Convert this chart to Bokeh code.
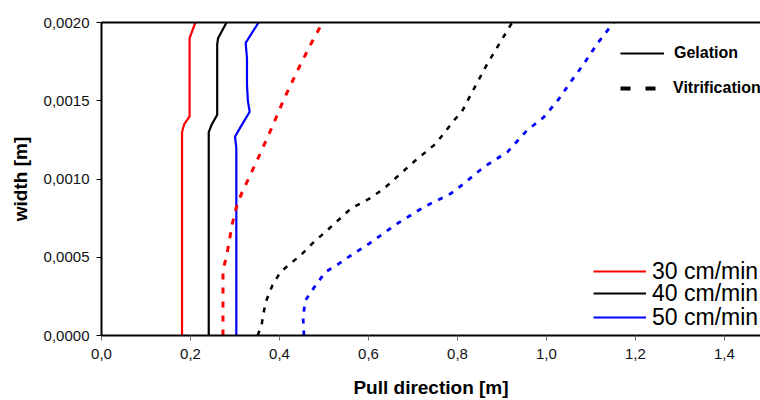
from bokeh.plotting import figure
from bokeh.models import (Range1d, FixedTicker, CustomJSTickFormatter, LinearAxis,
                          Legend, LegendItem)
from bokeh.embed import file_html
from bokeh.resources import INLINE

# ---- data ----
red_gel_x = [0.181, 0.181, 0.186, 0.198, 0.198, 0.211]
red_gel_y = [0.0, 0.00130, 0.00135, 0.00140, 0.00190, 0.00200]

black_gel_x = [0.241, 0.241, 0.248, 0.260, 0.260, 0.262, 0.281]
black_gel_y = [0.0, 0.00130, 0.00135, 0.00141, 0.00186, 0.00190, 0.00200]

blue_gel_x = [0.303, 0.303, 0.300, 0.312, 0.333, 0.329, 0.327, 0.327, 0.324, 0.353]
blue_gel_y = [0.0, 0.00120, 0.00127, 0.00133, 0.00143, 0.00150, 0.00160, 0.00177, 0.00187, 0.00200]

red_vit_x = [0.273, 0.273, 0.282, 0.294, 0.303, 0.316, 0.350, 0.380, 0.410, 0.440, 0.470, 0.497]
red_vit_y = [0.0, 0.000415, 0.00052, 0.000714, 0.00082, 0.000916, 0.00112, 0.00131, 0.00151, 0.00169, 0.00186, 0.00200]

black_vit_x = [0.351, 0.360, 0.363, 0.370, 0.384, 0.402, 0.428, 0.447, 0.473, 0.511, 0.560,
               0.601, 0.634, 0.702, 0.751, 0.792, 0.810, 0.829, 0.863, 0.889, 0.912, 0.923]
black_vit_y = [0.0, 0.00007, 0.00013, 0.00022, 0.00032, 0.000405, 0.000468, 0.000511, 0.000586,
               0.000682, 0.00081, 0.000873, 0.000937, 0.00111, 0.001225, 0.001374, 0.00143,
               0.001534, 0.001715, 0.00184, 0.00195, 0.00200]

blue_vit_x = [0.455, 0.453, 0.458, 0.481, 0.503, 0.533, 0.560, 0.601, 0.664, 0.724, 0.784,
              0.814, 0.859, 0.912, 0.956, 0.994, 1.028, 1.054, 1.084, 1.114, 1.151]
blue_vit_y = [0.0, 0.000117, 0.000224, 0.00032, 0.000405, 0.000458, 0.000511, 0.000586, 0.000714,
              0.00082, 0.000905, 0.00097, 0.001076, 0.001172, 0.00131, 0.001395, 0.001512,
              0.001619, 0.001736, 0.001864, 0.00200]

speed_labels = ["30 cm/min", "40 cm/min", "50 cm/min"]
type_labels = ["Gelation", "Vitrification"]
x_title = "Pull direction [m]"
y_title = "width [m]"
x_ticks = [0.0, 0.2, 0.4, 0.6, 0.8, 1.0, 1.2, 1.4, 1.6]
y_ticks = [0.0, 0.0005, 0.0010, 0.0015, 0.0020]

FONT = "Liberation Sans"

p = figure(width=760, height=400, output_backend="svg", toolbar_location=None,
           x_range=Range1d(0, 1.481), y_range=Range1d(0, 0.002),
           min_border_left=101, min_border_right=0, min_border_top=22, min_border_bottom=65)
p.outline_line_color = None
p.grid.visible = False
p.background_fill_color = "white"
p.border_fill_color = "white"

# curves
r_red = p.line(red_gel_x, red_gel_y, line_color="#ff0000", line_width=2.2)
r_black = p.line(black_gel_x, black_gel_y, line_color="black", line_width=2.2)
r_blue = p.line(blue_gel_x, blue_gel_y, line_color="#0000ff", line_width=2.2)
p.line(red_vit_x, red_vit_y, line_color="#ff0000", line_width=3, line_dash="6 8")
p.line(black_vit_x, black_vit_y, line_color="black", line_width=2.5, line_dash="5 7")
p.line(blue_vit_x, blue_vit_y, line_color="#0000ff", line_width=2.8, line_dash="5 7")

# off-screen sample renderers for the line-style legend
d_gel = p.line([-1.0, -0.9], [-1.0, -1.0], line_color="black", line_width=2)
d_vit = p.line([-1.0, -0.9], [-1.0, -1.0], line_color="black", line_width=4, line_dash="10 15")

# axes
p.xaxis.ticker = FixedTicker(ticks=x_ticks)
p.yaxis.ticker = FixedTicker(ticks=y_ticks)
p.xaxis.formatter = CustomJSTickFormatter(code="return tick.toFixed(1).replace('.', ',');")
p.yaxis.formatter = CustomJSTickFormatter(code="return tick.toFixed(4).replace('.', ',');")
p.xaxis.axis_label = x_title
p.yaxis.axis_label = y_title
for ax in [p.xaxis[0], p.yaxis[0]]:
    ax.axis_line_width = 2
    ax.axis_line_color = "black"
    ax.major_tick_out = 5
    ax.major_tick_in = 0
    ax.minor_tick_line_color = None
    ax.major_label_text_font = FONT
    ax.major_label_text_font_size = "15px"
    ax.major_label_text_color = "#111111"
    ax.axis_label_text_font = FONT
    ax.axis_label_text_font_style = "bold"
    ax.axis_label_text_font_size = "19px"
    ax.axis_label_text_color = "black"
p.xaxis.major_tick_line_color = "#666666"
p.yaxis.major_tick_line_color = "black"
p.xaxis.major_label_standoff = 8
p.yaxis.major_label_standoff = 7
p.xaxis.axis_label_standoff = 15
p.yaxis.axis_label_standoff = 10

top = LinearAxis(axis_line_width=2, axis_line_color="black", major_tick_line_color=None,
                 minor_tick_line_color=None, major_label_text_font_size="0px")
p.add_layout(top, "above")


def add_legend(label, rend, loc, gw, standoff, size, style):
    lg = Legend(items=[LegendItem(label=label, renderers=[rend])], location=loc,
                padding=0, margin=0, border_line_color=None, background_fill_alpha=0,
                glyph_width=gw, glyph_height=30, label_standoff=standoff,
                label_text_font=FONT, label_text_font_size=size,
                label_text_font_style=style, label_text_color="black")
    p.add_layout(lg)


add_legend(type_labels[0], d_gel, (519, 267), 44, 10, "16px", "bold")
add_legend(type_labels[1], d_vit, (519, 232), 36, 17, "16px", "bold")
add_legend(speed_labels[0], r_red, (492, 49), 53, 6, "23px", "normal")
add_legend(speed_labels[1], r_black, (492, 27), 53, 6, "23px", "normal")
add_legend(speed_labels[2], r_blue, (492, 3), 53, 6, "23px", "normal")

open("out.html", "w").write(file_html(p, INLINE))
